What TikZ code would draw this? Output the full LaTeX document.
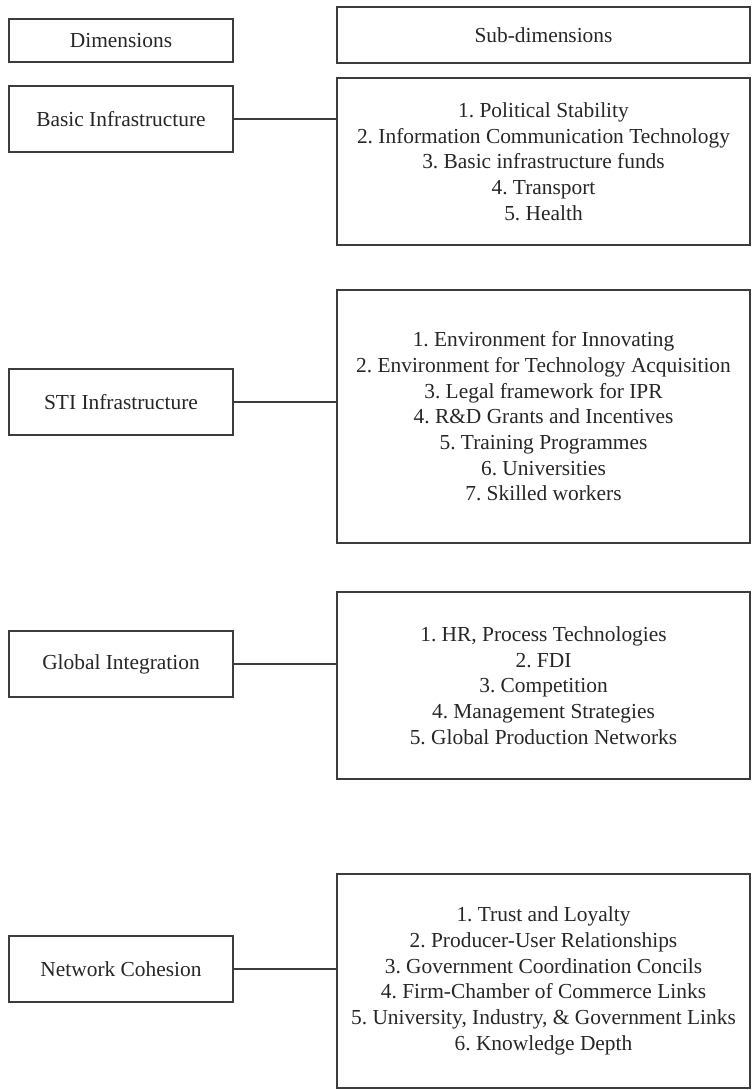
\documentclass[tikz,border=0pt]{standalone}
\usepackage{fontspec}
\setmainfont{Liberation Serif}
\frenchspacing
\definecolor{linegray}{HTML}{3C3C3C}
\definecolor{textgray}{HTML}{262626}
\begin{document}
\begin{tikzpicture}[x=1pt,y=-1pt,
  box/.style={draw=linegray, line width=1.6pt, text=textgray, inner sep=0pt,
    align=center, font=\fontsize{21.4}{25.7}\selectfont},
  dimbox/.style={box, minimum width=224pt, minimum height=66pt},
  subbox/.style={box, minimum width=413pt},
  link/.style={draw=linegray, line width=1.6pt}]
\useasboundingbox (0,0) rectangle (752,1090);

% column headers
\node[box, minimum width=224pt, minimum height=43pt] (dimhead) at (121,40.5) {Dimensions};
\node[subbox, minimum height=56pt] (subhead) at (543.5,35) {Sub-dimensions};

% dimensions
\node[dimbox] (basic) at (121,119) {Basic Infrastructure};
\node[dimbox] (sti) at (121,402) {STI Infrastructure};
\node[dimbox] (global) at (121,664) {Global Integration};
\node[dimbox] (network) at (121,969) {Network Cohesion};

% sub-dimensions
\node[subbox, minimum height=167pt] (basicsub) at (543.5,161.5)
  {1. Political Stability\\2. Information Communication Technology\\3. Basic infrastructure funds\\4. Transport\\5. Health};
\node[subbox, minimum height=253pt] (stisub) at (543.5,416.5)
  {1. Environment for Innovating\\2. Environment for Technology Acquisition\\3. Legal framework for IPR\\4. R\&D Grants and Incentives\\5. Training Programmes\\6. Universities\\7. Skilled workers};
\node[subbox, minimum height=187pt] (globalsub) at (543.5,685.5)
  {1. HR, Process Technologies\\2. FDI\\3. Competition\\4. Management Strategies\\5. Global Production Networks};
\node[subbox, minimum height=214pt] (networksub) at (543.5,981)
  {1. Trust and Loyalty\\2. Producer-User Relationships\\3. Government Coordination Concils\\4. Firm-Chamber of Commerce Links\\5. University, Industry, \& Government Links\\6. Knowledge Depth};

% connectors
\draw[link] (basic.east) -- (basic.east -| basicsub.west);
\draw[link] (sti.east) -- (sti.east -| stisub.west);
\draw[link] (global.east) -- (global.east -| globalsub.west);
\draw[link] (network.east) -- (network.east -| networksub.west);
\end{tikzpicture}
\end{document}
